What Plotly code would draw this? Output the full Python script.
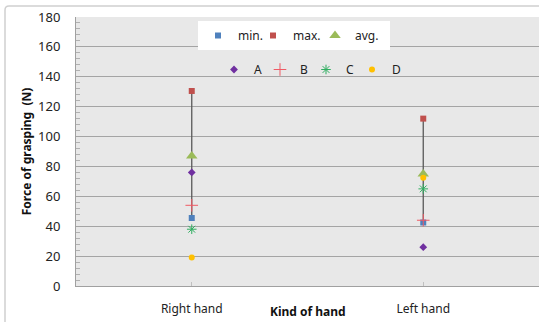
import plotly.graph_objects as go

# Grip force per hand (N)
hands = ["Right hand", "Left hand"]
f_min = [45.5, 42.5]
f_max = [130.5, 112.0]
f_avg = [87.0, 75.0]
subj_a = [76.0, 26.0]
subj_b = [54.0, 44.0]
subj_c = [38.0, 65.0]
subj_d = [19.0, 72.5]

W, H = 539, 322
ML, MR, MT, MB = 76, 0, 17, 36
PW, PH = W - ML - MR, H - MT - MB


def px_x(p):
    return (p - ML) / PW


def px_y(p):
    return 1 - (p - MT) / PH


FONT = "Noto Sans"

fig = go.Figure()

# high-low line between min and max of each hand
hx, hy = [], []
for h, lo, hi in zip(hands, f_min, f_max):
    hx += [h, h, None]
    hy += [lo, hi, None]
fig.add_trace(go.Scatter(x=hx, y=hy, mode="lines", line=dict(color="#595959", width=1.3),
                         showlegend=False, hoverinfo="skip"))

summary = [
    ("min.", f_min, dict(symbol="square", size=6, color="#4f81bd"), 10),
    ("max.", f_max, dict(symbol="square", size=6, color="#c0504d"), 17),
    ("avg.", f_avg, dict(symbol="triangle-up", size=10, color="#9bbb59"), 30),
]
for name, vals, mk, lw in summary:
    fig.add_trace(go.Scatter(x=hands, y=vals, mode="markers", name=name, marker=mk,
                             legend="legend", legendwidth=lw))

subjects = [
    ("A", subj_a, dict(symbol="diamond", size=6, color="#7030a0"), 1),
    ("B", subj_b, dict(symbol="cross-thin", size=9, color="#ef5a64",
                        line=dict(color="#ef5a64", width=1)), 1),
    ("C", subj_c, dict(symbol="asterisk", size=8, color="#2fae60",
                        line=dict(color="#2fae60", width=1)), 1),
    ("D", subj_d, dict(symbol="circle", size=6, color="#ffc000"), 12),
]
for name, vals, mk, lw in subjects:
    fig.add_trace(go.Scatter(x=hands, y=vals, mode="markers", name=name, marker=mk,
                             legend="legend2", legendwidth=lw))

fig.update_layout(
    width=W, height=H,
    margin=dict(l=ML, r=MR, t=MT, b=MB, pad=0),
    paper_bgcolor="white",
    plot_bgcolor="#e8e8e8",
    font=dict(family=FONT, size=12, color="#222222"),
    legend=dict(
        orientation="h", x=px_x(198), y=px_y(21), xanchor="left", yanchor="top",
        bgcolor="white", font=dict(size=12, color="#222222"),
        itemwidth=30, borderwidth=0,
    ),
    legend2=dict(
        orientation="h", x=px_x(214), y=px_y(55), xanchor="left", yanchor="top",
        bgcolor="rgba(0,0,0,0)", font=dict(size=12, color="#222222"),
        itemwidth=30,
    ),
    xaxis=dict(
        type="category", range=[-0.5, 1.5], showgrid=False,
        showline=True, linecolor="#a0a0a0", linewidth=1,
        ticks="inside", ticklen=4, tickcolor="#c0c0c0",
        tickfont=dict(size=12, color="#222222"), ticklabelstandoff=12,
        fixedrange=True,
    ),
    yaxis=dict(
        range=[0, 180], dtick=20, tick0=0,
        showgrid=True, gridcolor="#a4a4a4", gridwidth=1.3,
        showline=True, linecolor="#a0a0a0", linewidth=1,
        ticks="", tickfont=dict(size=13, color="#222222"), ticklabelstandoff=12,
        minor=dict(dtick=4, ticks="inside", ticklen=4, tickcolor="#b0b0b0", showgrid=False),
        zeroline=False,
        title=dict(text="<b>Force of grasping  (N)</b>", font=dict(size=12, color="#111111"),
                   standoff=3),
    ),
)

# x-axis title placed between the two category labels
fig.add_annotation(text="<b>Kind of hand</b>", x=px_x(308), y=px_y(311), xref="paper", yref="paper",
                   showarrow=False, xanchor="center", yanchor="middle",
                   font=dict(size=12, color="#111111"))

# outer chart frame
fig.add_shape(type="path", xref="paper", yref="paper",
              path=f"M {px_x(5)},{px_y(340)} L {px_x(5)},{px_y(10)} Q {px_x(5)},{px_y(6)} {px_x(9)},{px_y(6)} L {px_x(560)},{px_y(6)}",
              line=dict(color="#d0d0d0", width=1.5), layer="above")

fig.write_html("out.html")
